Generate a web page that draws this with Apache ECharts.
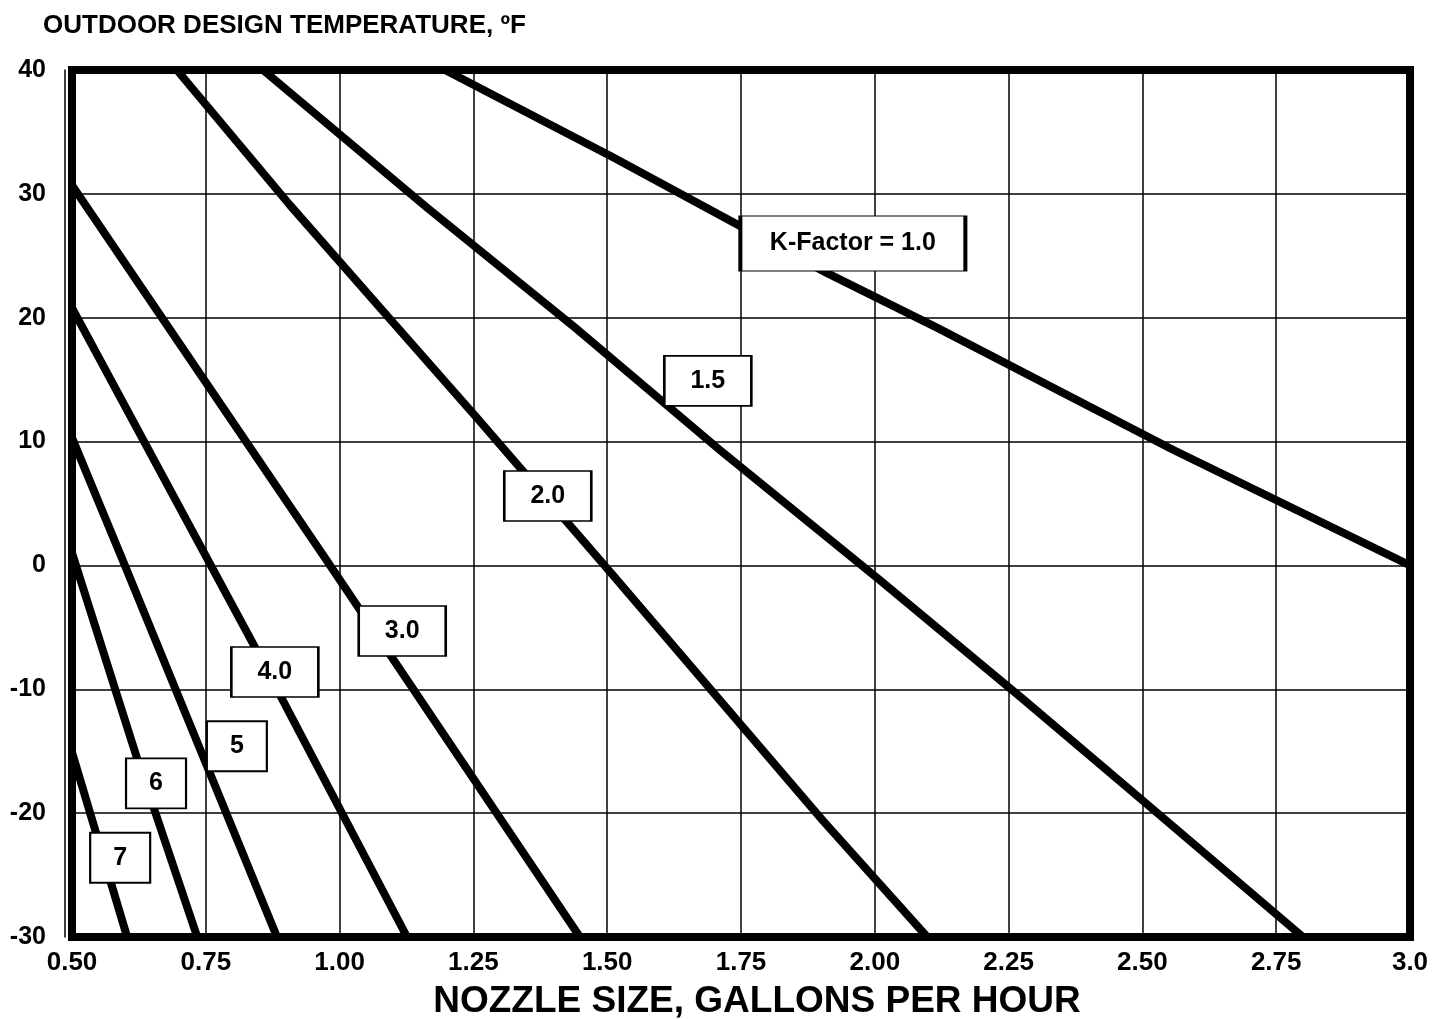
<!DOCTYPE html>
<html>
<head>
<meta charset="utf-8">
<title>K-Factor chart</title>
<script src="https://cdn.jsdelivr.net/npm/echarts@6/dist/echarts.min.js"></script>
<style>
  html, body { margin: 0; padding: 0; background: #fff; }
  #chart { width: 1434px; height: 1019px; }
</style>
</head>
<body>
<div id="chart"></div>
<script>
// axis ticks
const nozzleTicks = [0.5, 0.75, 1.0, 1.25, 1.5, 1.75, 2.0, 2.25, 2.5, 2.75, 3.0];
const tempTicks = [-30, -20, -10, 0, 10, 20, 30, 40];

// K-factor curves: [nozzle gph, outdoor temp F]
const kFactor10 = [[1.197, 40], [1.509, 33.0], [1.911, 23.6], [2.116, 19.2], [2.559, 9.3], [3.0, 0]];
const kFactor15 = [[0.857, 40], [1.163, 28.9], [1.440, 19.2], [1.711, 9.3], [2.010, -1.2], [2.277, -10.8], [2.501, -19.0], [2.800, -30]];
const kFactor20 = [[0.696, 40], [0.907, 29.1], [1.100, 19.6], [1.257, 11.9], [1.509, -0.7], [1.903, -20.6], [2.098, -30]];
const kFactor30 = [[0.5, 30.7], [0.976, 0.4], [1.449, -30]];
const kFactor40 = [[0.5, 20.8], [0.838, -6.3], [1.126, -30]];
const kFactor5 = [[0.5, 10.3], [0.595, 0.4], [0.883, -30]];
const kFactor6 = [[0.5, 1.0], [0.621, -15.5], [0.734, -30]];
const kFactor7 = [[0.5, -15.1], [0.603, -30]];

const curveNames = ['1.0', '1.5', '2.0', '3.0', '4.0', '5', '6', '7'];
const curves = [kFactor10, kFactor15, kFactor20, kFactor30, kFactor40, kFactor5, kFactor6, kFactor7];

// curve labels (box centres)
const labelText = ['K-Factor = 1.0', '1.5', '2.0', '3.0', '4.0', '5', '6', '7'];
const labelNozzle = [1.959, 1.688, 1.389, 1.117, 0.879, 0.808, 0.657, 0.590];
const labelTemp = [26.0, 14.9, 5.6, -5.3, -8.6, -14.6, -17.6, -23.6];

const FONT = 'Arial, "Liberation Sans", Helvetica, sans-serif';

const chart = echarts.init(document.getElementById('chart'));

const lineSeries = curves.map((pts, i) => ({
    name: 'K ' + curveNames[i],
    type: 'line',
    data: pts,
    symbol: 'none',
    smooth: false,
    lineStyle: { color: '#000', width: 8, cap: 'butt', join: 'round' },
    z: 3
}));

// white boxes with the K value, drawn as rect symbols over the curves
const labelData = labelText.map((t, i) => {
    const w = t.length > 3 ? 225 : (t.length === 3 ? 87 : 60);
    const h = t.length > 3 ? 55 : 50;
    return { value: [labelNozzle[i], labelTemp[i]], symbolSize: [w, h] };
});

const option = {
    backgroundColor: '#fff',
    animation: false,
    title: {
        text: 'OUTDOOR DESIGN TEMPERATURE, ºF',
        left: 38,
        top: 8,
        textStyle: { fontFamily: FONT, fontSize: 26, fontWeight: 'bold', color: '#000' }
    },
    grid: {
        left: 72,
        right: 24,
        top: 70,
        bottom: 82,
        outerBoundsMode: 'none',
        show: true,
        borderColor: '#000',
        borderWidth: 8,
        backgroundColor: '#fff'
    },
    xAxis: {
        type: 'value',
        min: nozzleTicks[0],
        max: nozzleTicks[nozzleTicks.length - 1],
        interval: 0.25,
        name: 'NOZZLE SIZE, GALLONS PER HOUR',
        nameLocation: 'middle',
        nameGap: 46,
        nameTextStyle: { fontFamily: FONT, fontSize: 37, fontWeight: 'bold', color: '#000', padding: [0, 0, 0, 32] },
        axisLine: { show: false },
        axisTick: { show: false },
        axisLabel: {
            margin: 13,
            fontFamily: FONT,
            fontSize: 26,
            fontWeight: 'bold',
            color: '#000',
            formatter: v => (v === 3 ? '3.0' : v.toFixed(2))
        },
        splitLine: { show: true, lineStyle: { color: '#000', width: 1.5 } }
    },
    yAxis: {
        type: 'value',
        min: tempTicks[0],
        max: tempTicks[tempTicks.length - 1],
        interval: 10,
        offset: 7,
        axisLine: { show: true, onZero: false, lineStyle: { color: '#000', width: 1.5 } },
        axisTick: { show: false },
        axisLabel: {
            margin: 19,
            fontFamily: FONT,
            fontSize: 25,
            fontWeight: 'bold',
            color: '#000'
        },
        splitLine: { show: true, lineStyle: { color: '#000', width: 1.5 } }
    },
    series: lineSeries.concat([{
        name: 'labels',
        type: 'scatter',
        data: labelData,
        symbol: 'rect',
        itemStyle: { color: '#fff', borderColor: '#000', borderWidth: 2, opacity: 1 },
        z: 10,
        label: {
            show: true,
            position: 'inside',
            formatter: p => labelText[p.dataIndex],
            fontFamily: FONT,
            fontSize: 25,
            fontWeight: 'bold',
            color: '#000'
        },
        emphasis: { disabled: true }
    }])
};

chart.setOption(option);
window.addEventListener('resize', () => chart.resize());
</script>
</body>
</html>
